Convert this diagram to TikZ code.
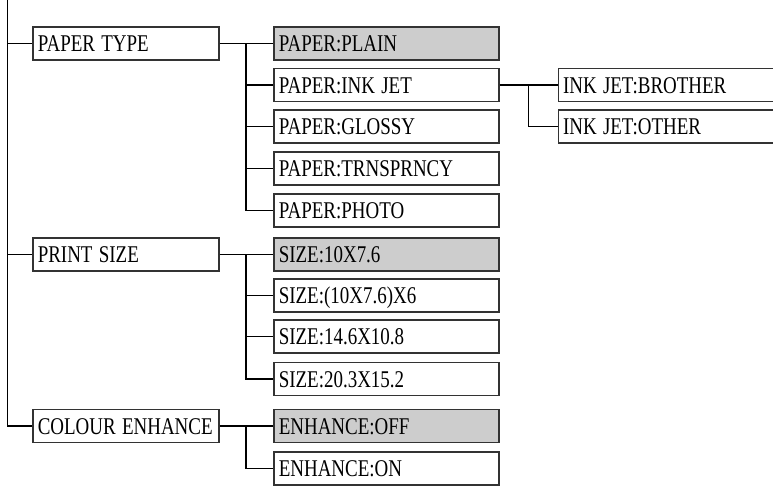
\documentclass[tikz,border=0pt]{standalone}
\usepackage{fontspec}
\usepackage{graphicx}
\setmainfont{Liberation Serif}[WordSpace=0.7]
\newcommand\lbl[1]{\scalebox{0.79}[1]{#1}}
\definecolor{selgray}{HTML}{CDCDCD}
\definecolor{boxline}{HTML}{333333}
\begin{document}
\begin{tikzpicture}[x=0.75pt,y=-0.75pt,
  every node/.style={font=\fontsize{18}{20}\selectfont},
  box/.style={draw=boxline,line width=0.8pt,fill=white,minimum height=24.75pt,
    text height=12pt,text depth=0pt,inner xsep=3.6pt,align=left},
  lvla/.style={box,text width=132.3pt},
  lvlb/.style={box,text width=161.55pt},
  lvlc/.style={box,text width=157.5pt},
  sel/.style={fill=selgray},
  conn/.style={line width=1.4pt,black}]
\useasboundingbox (0,0) rectangle (773,485);
\begin{scope}
\clip (0,0) rectangle (773,485);
% level 1
\node[lvla] (ptype) at (126,43.5) {\lbl{PAPER TYPE}};
\node[lvla] (psize) at (126,254.5) {\lbl{PRINT SIZE}};
\node[lvla] (cenh) at (126,426) {\lbl{COLOUR ENHANCE}};
% level 2
\node[lvlb,sel] (plain) at (386.5,43.5) {\lbl{PAPER:PLAIN}};
\node[lvlb] (inkjet) at (386.5,85) {\lbl{PAPER:INK JET}};
\node[lvlb] (glossy) at (386.5,126.5) {\lbl{PAPER:GLOSSY}};
\node[lvlb] (trans) at (386.5,168.5) {\lbl{PAPER:TRNSPRNCY}};
\node[lvlb] (photo) at (386.5,210.5) {\lbl{PAPER:PHOTO}};
\node[lvlb,sel] (s1) at (386.5,254.5) {\lbl{SIZE:10X7.6}};
\node[lvlb] (s2) at (386.5,295.5) {\lbl{SIZE:(10X7.6)X6}};
\node[lvlb] (s3) at (386.5,336.5) {\lbl{SIZE:14.6X10.8}};
\node[lvlb] (s4) at (386.5,379) {\lbl{SIZE:20.3X15.2}};
\node[lvlb,sel] (eoff) at (386.5,426) {\lbl{ENHANCE:OFF}};
\node[lvlb] (eon) at (386.5,468.5) {\lbl{ENHANCE:ON}};
% level 3
\node[lvlc] (brother) at (668,85) {\lbl{INK JET:BROTHER}};
\node[lvlc] (other) at (668,126.5) {\lbl{INK JET:OTHER}};
% buses
\coordinate (top) at (7.5,0);
\coordinate (b1) at (246,0);
\coordinate (b2) at (528.5,0);
% main trunk
\draw[conn] (top) |- (cenh.west);
\draw[conn] (ptype.west -| top) -- (ptype.west);
\draw[conn] (psize.west -| top) -- (psize.west);
% paper type
\draw[conn] (ptype.east) -- (plain.west);
\draw[conn] (ptype.east -| b1) |- (inkjet.west);
\draw[conn] (ptype.east -| b1) |- (glossy.west);
\draw[conn] (ptype.east -| b1) |- (trans.west);
\draw[conn] (ptype.east -| b1) |- (photo.west);
% ink jet
\draw[conn] (inkjet.east) -- (brother.west);
\draw[conn] (inkjet.east -| b2) |- (other.west);
% print size
\draw[conn] (psize.east) -- (s1.west);
\draw[conn] (psize.east -| b1) |- (s2.west);
\draw[conn] (psize.east -| b1) |- (s3.west);
\draw[conn] (psize.east -| b1) |- (s4.west);
% colour enhance
\draw[conn] (cenh.east) -- (eoff.west);
\draw[conn] (cenh.east -| b1) |- (eon.west);
\end{scope}
\end{tikzpicture}
\end{document}
